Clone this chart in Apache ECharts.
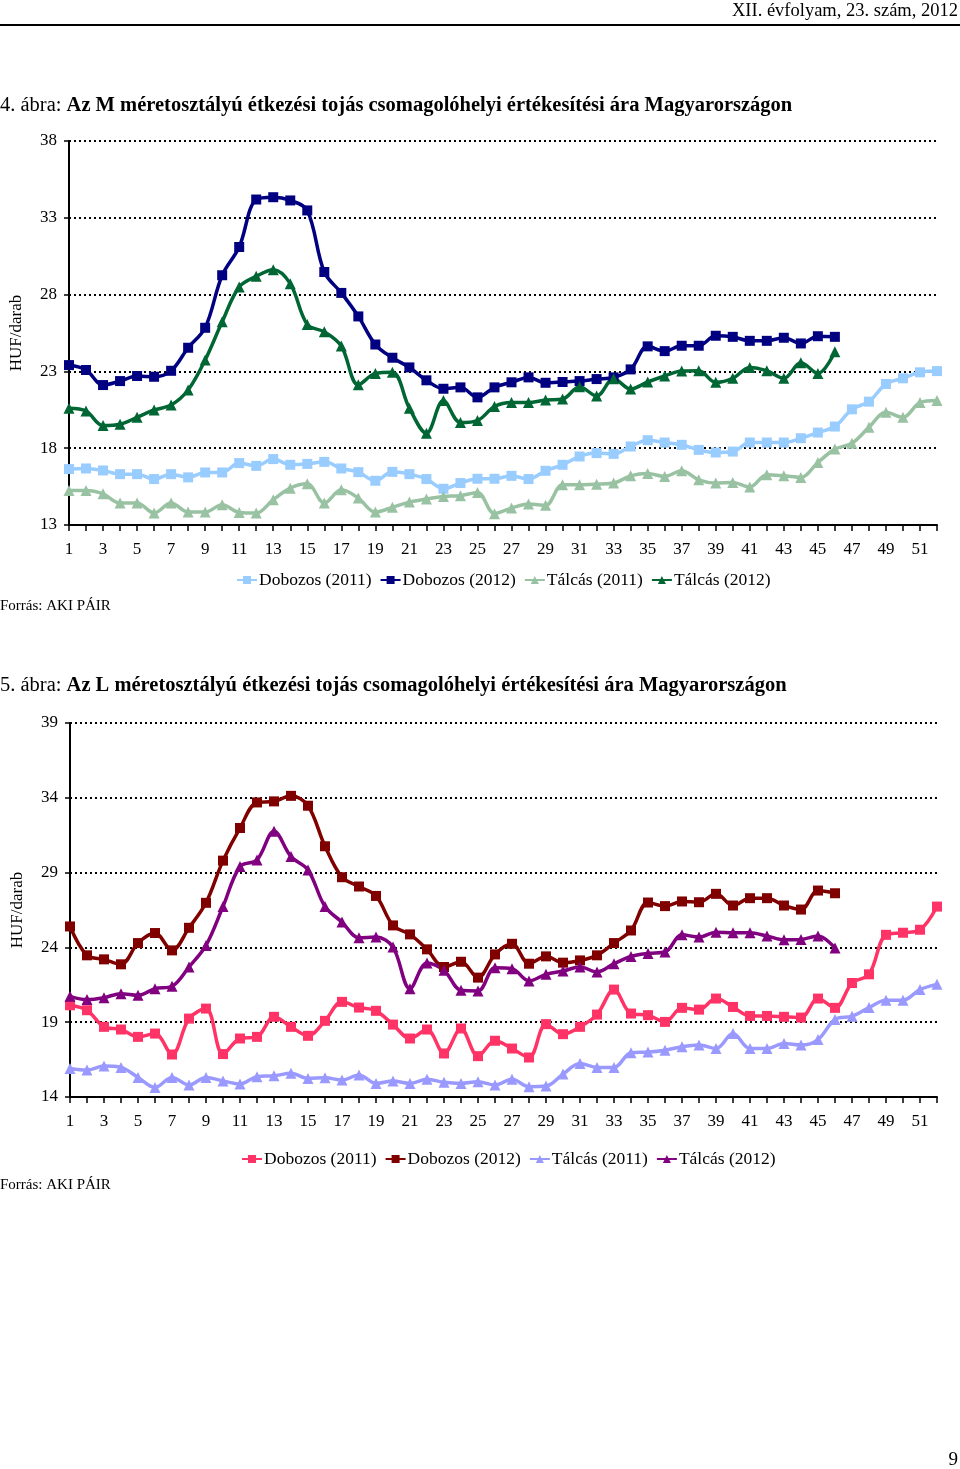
<!DOCTYPE html>
<html><head><meta charset="utf-8">
<script src="https://cdn.jsdelivr.net/npm/echarts@6/dist/echarts.min.js"></script>
<style>
html,body{margin:0;padding:0;background:#fff;}
#c1{position:absolute;left:0;top:0;width:960px;height:640px;}
#c2{position:absolute;left:0;top:640px;width:960px;height:829px;}
</style>
</head><body><div id="c1"></div><div id="c2"></div>
<script>
const weeks = ['1','2','3','4','5','6','7','8','9','10','11','12','13','14','15','16','17','18','19','20','21','22','23','24','25','26','27','28','29','30','31','32','33','34','35','36','37','38','39','40','41','42','43','44','45','46','47','48','49','50','51','52'];
const seriesNames = ['Dobozos (2011)','Dobozos (2012)','Tálcás (2011)','Tálcás (2012)'];

// M size (chart 4)
const mDoboz2011 = [16.64,16.68,16.55,16.31,16.31,15.99,16.31,16.10,16.42,16.42,17.03,16.85,17.29,16.92,16.98,17.11,16.68,16.44,15.88,16.46,16.31,15.99,15.36,15.73,16.01,16.01,16.20,15.99,16.53,16.92,17.46,17.68,17.63,18.11,18.52,18.37,18.22,17.89,17.72,17.78,18.37,18.37,18.37,18.65,19.02,19.41,20.53,21.03,22.18,22.55,22.94,23.02];
const mDoboz2012 = [23.41,23.09,22.11,22.37,22.70,22.65,23.04,24.54,25.84,29.26,31.10,34.19,34.34,34.13,33.48,29.47,28.11,26.58,24.75,23.89,23.26,22.42,21.87,21.96,21.31,21.96,22.29,22.61,22.26,22.31,22.37,22.50,22.61,23.13,24.63,24.32,24.67,24.67,25.32,25.25,24.99,24.99,25.19,24.82,25.29,25.25];
const mTalca2011 = [15.25,15.25,15.03,14.43,14.43,13.78,14.43,13.84,13.84,14.32,13.82,13.78,14.65,15.40,15.68,14.43,15.29,14.75,13.84,14.15,14.49,14.69,14.86,14.91,15.12,13.74,14.10,14.36,14.28,15.62,15.62,15.66,15.73,16.20,16.35,16.16,16.53,15.94,15.73,15.77,15.47,16.27,16.20,16.10,17.07,17.94,18.32,19.36,20.34,20.01,20.97,21.10];
const mTalca2012 = [20.60,20.42,19.47,19.56,20.01,20.49,20.81,21.79,23.74,26.23,28.50,29.19,29.62,28.71,26.05,25.58,24.65,22.13,22.87,22.95,20.60,18.97,21.10,19.67,19.80,20.71,20.97,20.97,21.14,21.20,22.00,21.40,22.52,21.85,22.31,22.70,23.02,23.04,22.29,22.55,23.26,23.04,22.55,23.56,22.87,24.28];

// L size (chart 5)
const lDoboz2011 = [20.13,19.80,18.69,18.51,18.02,18.24,16.84,19.24,19.91,16.87,17.91,18.02,19.36,18.69,18.09,19.09,20.36,19.98,19.76,18.84,17.91,18.51,16.91,18.58,16.73,17.76,17.24,16.64,18.87,18.20,18.69,19.51,21.18,19.58,19.47,19.02,19.96,19.84,20.58,20.02,19.42,19.42,19.36,19.31,20.58,19.96,21.62,22.20,24.84,24.98,25.18,26.73];
const lDoboz2012 = [25.40,23.47,23.20,22.87,24.29,24.96,23.80,25.31,26.98,29.80,31.98,33.69,33.76,34.13,33.47,30.76,28.69,28.07,27.44,25.47,24.87,23.87,22.69,23.04,21.98,23.53,24.24,22.91,23.40,22.98,23.13,23.47,24.29,25.13,27.00,26.76,27.07,27.02,27.58,26.80,27.29,27.29,26.80,26.53,27.80,27.62];
const lTalca2011 = [15.91,15.80,16.07,15.98,15.31,14.64,15.31,14.80,15.31,15.07,14.87,15.36,15.42,15.58,15.24,15.29,15.13,15.47,14.91,15.07,14.91,15.18,14.98,14.91,15.02,14.80,15.18,14.69,14.73,15.53,16.24,15.98,15.98,16.96,17.00,17.13,17.36,17.47,17.24,18.24,17.24,17.24,17.58,17.47,17.84,19.18,19.40,19.98,20.47,20.47,21.18,21.53];
const lTalca2012 = [20.73,20.51,20.64,20.91,20.80,21.24,21.40,22.69,24.13,26.73,29.40,29.84,31.76,30.07,29.18,26.73,25.69,24.64,24.69,24.02,21.24,22.96,22.47,21.13,21.09,22.64,22.58,21.76,22.20,22.42,22.69,22.36,22.91,23.40,23.60,23.69,24.84,24.69,25.02,24.98,24.98,24.76,24.51,24.53,24.76,23.96];

const yMin1 = 13, yMax1 = 38, yMin2 = 14, yMax2 = 39, yStep = 5;
const axisName = 'HUF/darab';

const FONT = '"Liberation Serif", "Times New Roman", serif';

function mkSeries(name, data, color, symbol) {
  return {
    name: name, type: 'line', data: data, smooth: 0.35,
    symbol: symbol, symbolSize: symbol === 'rect' ? 10 : 11,
    showSymbol: true,
    lineStyle: { color: color, width: 3.5 },
    itemStyle: { color: color },
    emphasis: { disabled: true },
    animation: false
  };
}

function mkOption(cfg) {
  return {
    animation: false,
    backgroundColor: '#fff',
    textStyle: { fontFamily: FONT, color: '#000' },
    grid: { left: 69, right: 23, top: cfg.gridTop, height: cfg.gridH, containLabel: false },
    legend: {
      top: cfg.legendTop, left: cfg.legendLeft, padding: 0,
      itemWidth: 20, itemHeight: 10, itemGap: 8,
      textStyle: { fontFamily: FONT, fontSize: 17.5, color: '#000', padding: [0, 0, 0, -3] },
      data: seriesNames
    },
    xAxis: {
      type: 'category', data: weeks, boundaryGap: false,
      axisLine: { lineStyle: { color: '#000', width: 2 } },
      axisTick: { show: true, inside: false, length: 6, interval: 0, lineStyle: { color: '#000', width: 1.5 } },
      axisLabel: { interval: 1, margin: 16, fontFamily: FONT, fontSize: 17, color: '#000' },
      splitLine: { show: false }
    },
    yAxis: {
      type: 'value', min: cfg.yMin, max: cfg.yMax, interval: yStep,
      name: axisName, nameLocation: 'middle', nameRotate: 90, nameGap: 44,
      nameTextStyle: { fontFamily: FONT, fontSize: 17, color: '#000' },
      axisLine: { show: true, lineStyle: { color: '#000', width: 2 } },
      axisTick: { show: true, inside: false, length: 5, lineStyle: { color: '#000', width: 1.5 } },
      axisLabel: { margin: 12, fontFamily: FONT, fontSize: 17, color: '#000' },
      splitLine: { show: true, lineStyle: { color: '#000', width: 2, type: [2, 3] } }
    },
    graphic: cfg.graphic,
    series: [
      mkSeries(seriesNames[0], cfg.d[0], cfg.c[0], 'rect'),
      mkSeries(seriesNames[1], cfg.d[1], cfg.c[1], 'rect'),
      mkSeries(seriesNames[2], cfg.d[2], cfg.c[2], 'triangle'),
      mkSeries(seriesNames[3], cfg.d[3], cfg.c[3], 'triangle')
    ]
  };
}

function titleText(y, num, bold) {
  return {
    type: 'text', x: 0, y: y, silent: true,
    style: {
      text: '{a|' + num + ' ábra: }{b|' + bold + '}',
      verticalAlign: 'middle',
      rich: {
        a: { fontFamily: FONT, fontSize: 20.5, fill: '#000' },
        b: { fontFamily: FONT, fontSize: 20.5, fontWeight: 'bold', fill: '#000' }
      }
    }
  };
}
function plainText(x, y, text, size, align) {
  return { type: 'text', x: x, y: y, silent: true,
    style: { text: text, font: size + 'px ' + FONT, fill: '#000', align: align || 'left', verticalAlign: 'middle' } };
}

const c1 = echarts.init(document.getElementById('c1'), null, { renderer: 'canvas' });
c1.setOption(mkOption({
  gridTop: 141, gridH: 384, yMin: yMin1, yMax: yMax1, legendTop: 571, legendLeft: 236,
  d: [mDoboz2011, mDoboz2012, mTalca2011, mTalca2012],
  c: ['#99CCFF', '#000080', '#99C2A3', '#006633'],
  graphic: [
    plainText(958, 11, 'XII. évfolyam, 23. szám, 2012', 18.5, 'right'),
    { type: 'rect', shape: { x: 0, y: 24, width: 960, height: 2 }, style: { fill: '#000' }, silent: true },
    titleText(106, '4.', 'Az M méretosztályú étkezési tojás csomagolóhelyi értékesítési ára Magyarországon'),
    plainText(0, 606, 'Forrás: AKI PÁIR', 15)
  ]
}));

const c2 = echarts.init(document.getElementById('c2'), null, { renderer: 'canvas' });
const opt2 = mkOption({
  gridTop: 83, gridH: 374, yMin: yMin2, yMax: yMax2, legendTop: 510, legendLeft: 241,
  d: [lDoboz2011, lDoboz2012, lTalca2011, lTalca2012],
  c: ['#FF3366', '#800000', '#9999FF', '#800080'],
  graphic: [
    titleText(46, '5.', 'Az L méretosztályú étkezési tojás csomagolóhelyi értékesítési ára Magyarországon'),
    plainText(0, 545, 'Forrás: AKI PÁIR', 15),
    plainText(958, 820, '9', 19, 'right')
  ]
});
opt2.grid.left = 70;
c2.setOption(opt2);
</script>
</body></html>
